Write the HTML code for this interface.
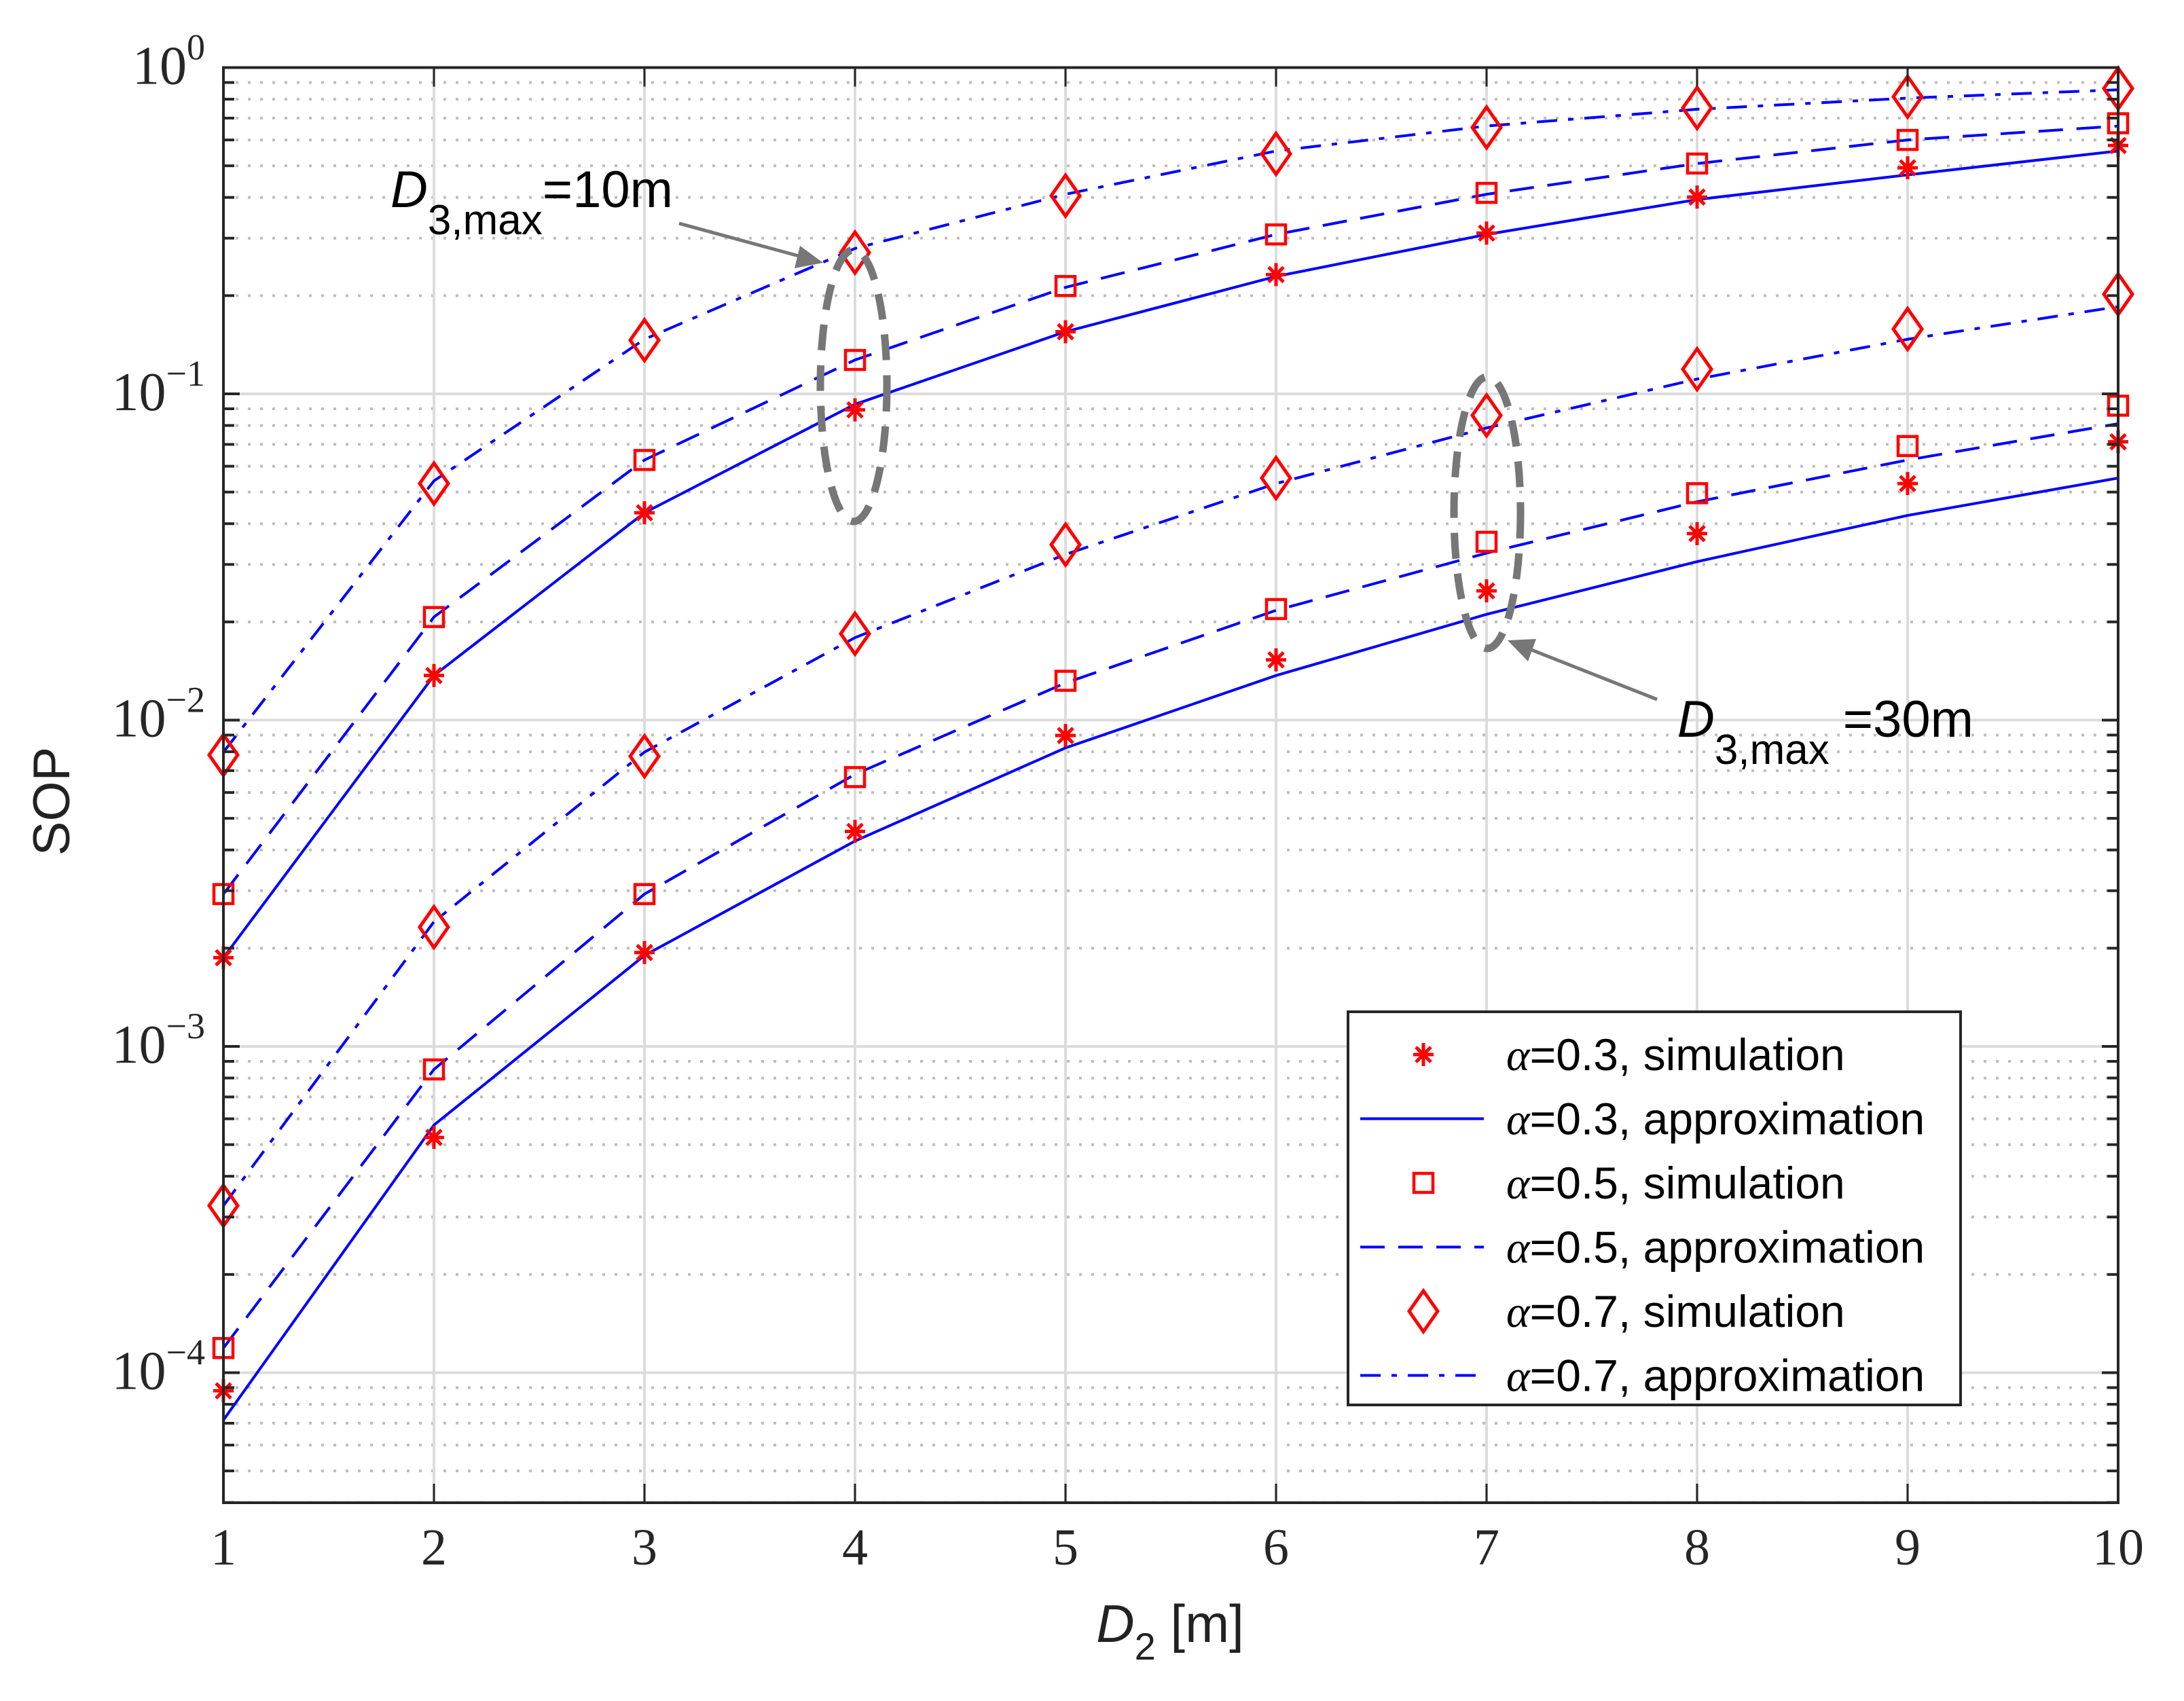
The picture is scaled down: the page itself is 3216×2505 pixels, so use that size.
<!DOCTYPE html>
<html><head><meta charset="utf-8"><style>
html,body{margin:0;padding:0;background:#fff;}
svg{display:block;}
</style></head><body>
<svg id="chart" width="3216" height="2505" xmlns="http://www.w3.org/2000/svg">
<rect x="0" y="0" width="3216" height="2505" fill="#fff"/>
<g id="grid"></g>
<g id="series"></g>
<g id="axes"></g>
<text x="0" y="0" transform="translate(102,1180) rotate(-90)" text-anchor="middle" font-family="Liberation Sans, sans-serif" font-size="76" fill="#222">SOP</text>
<text x="1723" y="2418" text-anchor="middle" font-family="Liberation Sans, sans-serif" font-size="78" fill="#222"><tspan font-style="italic">D</tspan><tspan font-size="56" dy="26">2</tspan><tspan dy="-26"> [m]</tspan></text>
<g>
<ellipse cx="1257" cy="568" rx="49" ry="200" fill="none" stroke="#777" stroke-width="11" stroke-dasharray="38,22"/>
<line x1="1000" y1="329" x2="1180" y2="378" stroke="#777" stroke-width="5"/>
<polygon points="1212,387 1170,395 1178,362" fill="#777"/>
<text x="575" y="305" font-family="Liberation Sans, sans-serif" font-size="76" fill="#000"><tspan font-style="italic">D</tspan><tspan font-size="62" dy="40">3,max</tspan><tspan dy="-40">=10m</tspan></text>
</g>
<g>
<ellipse cx="2190" cy="755" rx="49" ry="200" fill="none" stroke="#777" stroke-width="11" stroke-dasharray="38,22"/>
<line x1="2440" y1="1030" x2="2250" y2="955" stroke="#777" stroke-width="5"/>
<polygon points="2220,943 2262,941 2250,974" fill="#777"/>
<text x="2470" y="1085" font-family="Liberation Sans, sans-serif" font-size="76" fill="#000"><tspan font-style="italic">D</tspan><tspan font-size="62" dy="40">3,max</tspan><tspan dy="-40" dx="20">=30m</tspan></text>
</g>
<g id="legend"></g>
</svg>
<script>
const xCats = [1,2,3,4,5,6,7,8,9,10];
const xTickLabels = ['1','2','3','4','5','6','7','8','9','10'];
const yTickExps = [0,-1,-2,-3,-4];
// D3,max = 10m
const a03Approx10 = [0.00187,0.0137,0.0432,0.0929,0.155,0.229,0.308,0.394,0.469,0.555];
const a03Sim10    = [0.00187,0.0137,0.0432,0.0893,0.155,0.232,0.311,0.401,0.493,0.577];
const a05Approx10 = [0.00293,0.0207,0.0627,0.127,0.212,0.308,0.409,0.508,0.600,0.662];
const a05Sim10    = [0.00293,0.0207,0.0627,0.127,0.214,0.308,0.413,0.508,0.600,0.675];
const a07Approx10 = [0.00798,0.0541,0.147,0.279,0.409,0.555,0.662,0.745,0.806,0.855];
const a07Sim10    = [0.00782,0.0531,0.146,0.271,0.405,0.544,0.655,0.752,0.814,0.863];
// D3,max = 30m
const a03Approx30 = [0.0000716,0.000574,0.00190,0.00426,0.00822,0.0137,0.0211,0.0306,0.0424,0.0552];
const a03Sim30    = [0.000088,0.000526,0.00194,0.00456,0.00897,0.0153,0.0249,0.0373,0.0531,0.0713];
const a05Approx30 = [0.000119,0.00085,0.00293,0.00682,0.0130,0.0217,0.0325,0.0467,0.0627,0.0810];
const a05Sim30    = [0.000119,0.00085,0.00293,0.00669,0.0132,0.0219,0.0352,0.0496,0.0692,0.0920];
const a07Approx30 = [0.000325,0.00241,0.00798,0.0179,0.0322,0.0531,0.0786,0.111,0.147,0.185];
const a07Sim30    = [0.000325,0.00232,0.00775,0.0184,0.0345,0.0552,0.0859,0.119,0.158,0.202];

const L=329,R=3119,T=99.5,B=2213,DEC=480.5;
const xS=d=>L+(d-1)*(R-L)/9;
const yS=v=>T-DEC*Math.log10(v);
const NS='http://www.w3.org/2000/svg';
function mk(tag,attrs,parent){const e=document.createElementNS(NS,tag);for(const k in attrs)e.setAttribute(k,attrs[k]);parent.appendChild(e);return e;}
const grid=document.getElementById('grid'),ser=document.getElementById('series'),axes=document.getElementById('axes'),leg=document.getElementById('legend');

for(let e=0;e>=-5;e--){
  for(let m=1;m<=9;m++){
    const v=m*Math.pow(10,e); const y=yS(v);
    if(y<T-1||y>B+1)continue;
    const g=mk('line',{x1:L,x2:R,y1:y,y2:y,stroke:m===1?'#dcdcdc':'#bdbdbd','stroke-width':4,'stroke-dasharray':m===1?'none':'4,14'},grid);
    
    
    const t1=mk('line',{x1:L,x2:L+(m===1?24:16),y1:y,y2:y,stroke:'#262626','stroke-width':4},axes);
    
    
    const t2=mk('line',{x1:R,x2:R-(m===1?24:16),y1:y,y2:y,stroke:'#262626','stroke-width':4},axes);
    
    
  }
}
xCats.forEach((d,i)=>{
  const x=xS(d);
  const g=mk('line',{x1:x,x2:x,y1:T,y2:B,stroke:'#dcdcdc','stroke-width':4},grid);
  
  
  const t=mk('line',{x1:x,x2:x,y1:B,y2:B-28,stroke:'#262626','stroke-width':3},axes);
  
  
  const t2=mk('line',{x1:x,x2:x,y1:T,y2:T+28,stroke:'#262626','stroke-width':3},axes);
  
  
  const lb=mk('text',{x:x,y:2304,'text-anchor':'middle','font-family':'Liberation Serif, serif','font-size':76,fill:'#262626'},axes);
  lb.textContent=xTickLabels[i];
  
  
});
yTickExps.forEach(e=>{
  const y=yS(Math.pow(10,e));
  const t=mk('text',{x:302,y:y+24,'text-anchor':'end','font-family':'Liberation Serif, serif','font-size':80,fill:'#262626'},axes);
  
  
  const a=mk('tspan',{},t);a.textContent='10';
  const b=mk('tspan',{'font-size':54,dy:-36},t);b.textContent=e===0?'0':'\u2212'+(-e);
});
const frame=mk('rect',{x:L,y:T,width:R-L,height:B-T,fill:'none',stroke:'#262626','stroke-width':4},axes);



const styles={solid:'none',dash:'36,20',dashdot:'30,16,8,16'};
function line(vals,style,name){
  const p=mk('polyline',{points:vals.map((v,i)=>xS(xCats[i])+','+yS(v)).join(' '),fill:'none',stroke:'#0000ff','stroke-width':4,'stroke-dasharray':styles[style]},ser);
  
  
}
function marker(kind,x,y,parent,name){
  let e;
  if(kind==='star'){
    e=mk('g',{stroke:'#ff0000','stroke-width':5},parent);
    mk('line',{x1:x-15,x2:x+15,y1:y,y2:y},e);
    mk('line',{x1:x,x2:x,y1:y-17,y2:y+17},e);
    mk('line',{x1:x-11,x2:x+11,y1:y-11,y2:y+11},e);
    mk('line',{x1:x-11,x2:x+11,y1:y+11,y2:y-11},e);
  }else if(kind==='square'){
    e=mk('rect',{x:x-14,y:y-14,width:28,height:28,fill:'none',stroke:'#ff0000','stroke-width':4.5},parent);
  }else{
    e=mk('polygon',{points:`${x},${y-30} ${x+21},${y} ${x},${y+30} ${x-21},${y}`,fill:'none',stroke:'#ff0000','stroke-width':5},parent);
  }
  
  
}
function sim(vals,kind,name){vals.forEach((v,i)=>marker(kind,xS(xCats[i]),yS(v),ser,name));}

line(a03Approx10,'solid','a03-approx-10m');line(a05Approx10,'dash','a05-approx-10m');line(a07Approx10,'dashdot','a07-approx-10m');
line(a03Approx30,'solid','a03-approx-30m');line(a05Approx30,'dash','a05-approx-30m');line(a07Approx30,'dashdot','a07-approx-30m');
sim(a03Sim10,'star','a03-sim-10m');sim(a05Sim10,'square','a05-sim-10m');sim(a07Sim10,'diamond','a07-sim-10m');
sim(a03Sim30,'star','a03-sim-30m');sim(a05Sim30,'square','a05-sim-30m');sim(a07Sim30,'diamond','a07-sim-30m');

const lb=mk('rect',{x:1985,y:1490,width:902,height:579,fill:'#fff',stroke:'#262626','stroke-width':4},leg);


const entries=[['star','0.3, simulation'],['solid','0.3, approximation'],['square','0.5, simulation'],['dash','0.5, approximation'],['diamond','0.7, simulation'],['dashdot','0.7, approximation']];
entries.forEach((en,i)=>{
  const y=1553+i*94.5;
  const g=mk('g',{},leg);
  
  
  if(styles[en[0]]!==undefined){mk('line',{x1:2003,x2:2185,y1:y,y2:y,stroke:'#0000ff','stroke-width':4,'stroke-dasharray':styles[en[0]]},g);}
  else marker(en[0],2096,y,g,'legend-marker');
  const t=mk('text',{x:2218,y:y+23,'font-family':'Liberation Sans, sans-serif','font-size':66,fill:'#000'},g);
  const a=mk('tspan',{'font-family':'Liberation Serif, serif','font-style':'italic'},t);a.textContent='\u03b1';
  const b=mk('tspan',{},t);b.textContent='='+en[1];
});
</script>
</body></html>
